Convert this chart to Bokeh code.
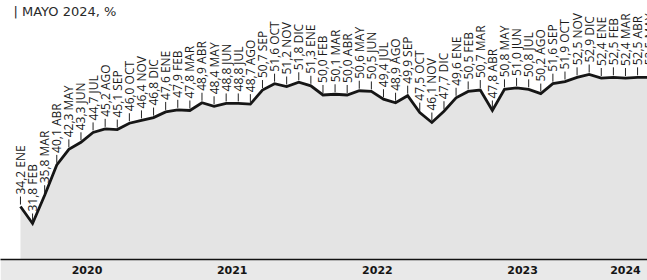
import math
from bokeh.plotting import figure
from bokeh.models import ColumnDataSource, FixedTicker, Label, Range1d
from bokeh.core.properties import value
from bokeh.embed import file_html
from bokeh.resources import INLINE

# ---- data -------------------------------------------------------------
month_names = ["ENE", "FEB", "MAR", "ABR", "MAY", "JUN",
               "JUL", "AGO", "SEP", "OCT", "NOV", "DIC"]
years = ["2020", "2021", "2022", "2023", "2024"]
v2020 = [34.2, 31.8, 35.8, 40.1, 42.3, 43.3, 44.7, 45.2, 45.1, 46.0, 46.4, 46.8]
v2021 = [47.6, 47.9, 47.8, 48.9, 48.4, 48.8, 48.8, 48.7, 50.7, 51.6, 51.2, 51.8]
v2022 = [51.3, 50.0, 50.1, 50.0, 50.6, 50.5, 49.4, 48.9, 49.9, 47.5, 46.1, 47.7]
v2023 = [49.6, 50.5, 50.7, 47.8, 50.8, 51.0, 50.8, 50.2, 51.6, 51.9, 52.5, 52.9]
v2024 = [52.4, 52.5, 52.4, 52.5, 52.5]
title_text = "| MAYO 2024, %"

series = [v2020, v2021, v2022, v2023, v2024]

# ---- layout constants --------------------------------------------------
W, H = 647, 280
BOTTOM = 21
Y0, Y1 = 26.70, 63.38
X0, X1 = -1.65, 51.82
ppu = (H - BOTTOM) / (Y1 - Y0)   # pixels per unit on y

xs, vals, labels = [], [], []
idx = 0
year_mid = {}
for yr, vs in zip(years, series):
    start = idx
    for m, v in enumerate(vs):
        xs.append(idx)
        vals.append(v)
        labels.append(f"{v:.1f}".replace(".", ",") + " " + month_names[m])
        idx += 1
    year_mid[(start + idx - 1) / 2] = yr

src = ColumnDataSource(dict(
    x=xs, v=vals, lab=labels,
    lead0=[v + 2.0 / ppu for v in vals],
    lead1=[v + 10.0 / ppu for v in vals],
))

p = figure(width=W, height=H, output_backend="svg", toolbar_location=None,
           x_range=Range1d(X0, X1), y_range=Range1d(Y0, Y1),
           y_axis_location=None, min_border_left=0, min_border_right=0,
           min_border_top=0, min_border_bottom=BOTTOM)
p.outline_line_color = None
p.background_fill_color = "#ffffff"
p.border_fill_color = "#e9e9e9"
p.grid.visible = False

p.varea(x="x", y1=0, y2="v", source=src, fill_color="#e4e4e4")
p.line(x="x", y="v", source=src, line_color="#161616", line_width=2.8,
       line_join="miter")
p.segment(x0="x", y0="lead0", x1="x", y1="lead1", source=src,
          line_color="#222222", line_width=1)
p.text(x="x", y="v", text="lab", source=src, angle=math.pi / 2,
       y_offset=-12, text_align="left", text_baseline="middle",
       text_font=value("Open Sans"), text_font_size="12px",
       text_color="#1a1a1a")

ax = p.xaxis[0]
ax.ticker = FixedTicker(ticks=list(year_mid.keys()))
ax.major_label_overrides = {k: v for k, v in year_mid.items()}
ax.axis_line_color = "#111111"
ax.axis_line_width = 1.6
ax.major_tick_line_color = None
ax.minor_tick_line_color = None
ax.major_tick_out = 0
ax.major_tick_in = 0
ax.minor_tick_out = 0
ax.major_label_standoff = 6
ax.major_label_text_font = "DejaVu Sans"
ax.major_label_text_font_style = "bold"
ax.major_label_text_font_size = "11px"
ax.major_label_text_color = "#151515"

p.add_layout(Label(x=13, y=H - BOTTOM - 3, x_units="screen", y_units="screen",
                   text=title_text, text_baseline="top",
                   text_font="DejaVu Sans", text_font_size="13px",
                   text_color="#2a2a2a"))

open("out.html", "w").write(file_html(p, INLINE))
